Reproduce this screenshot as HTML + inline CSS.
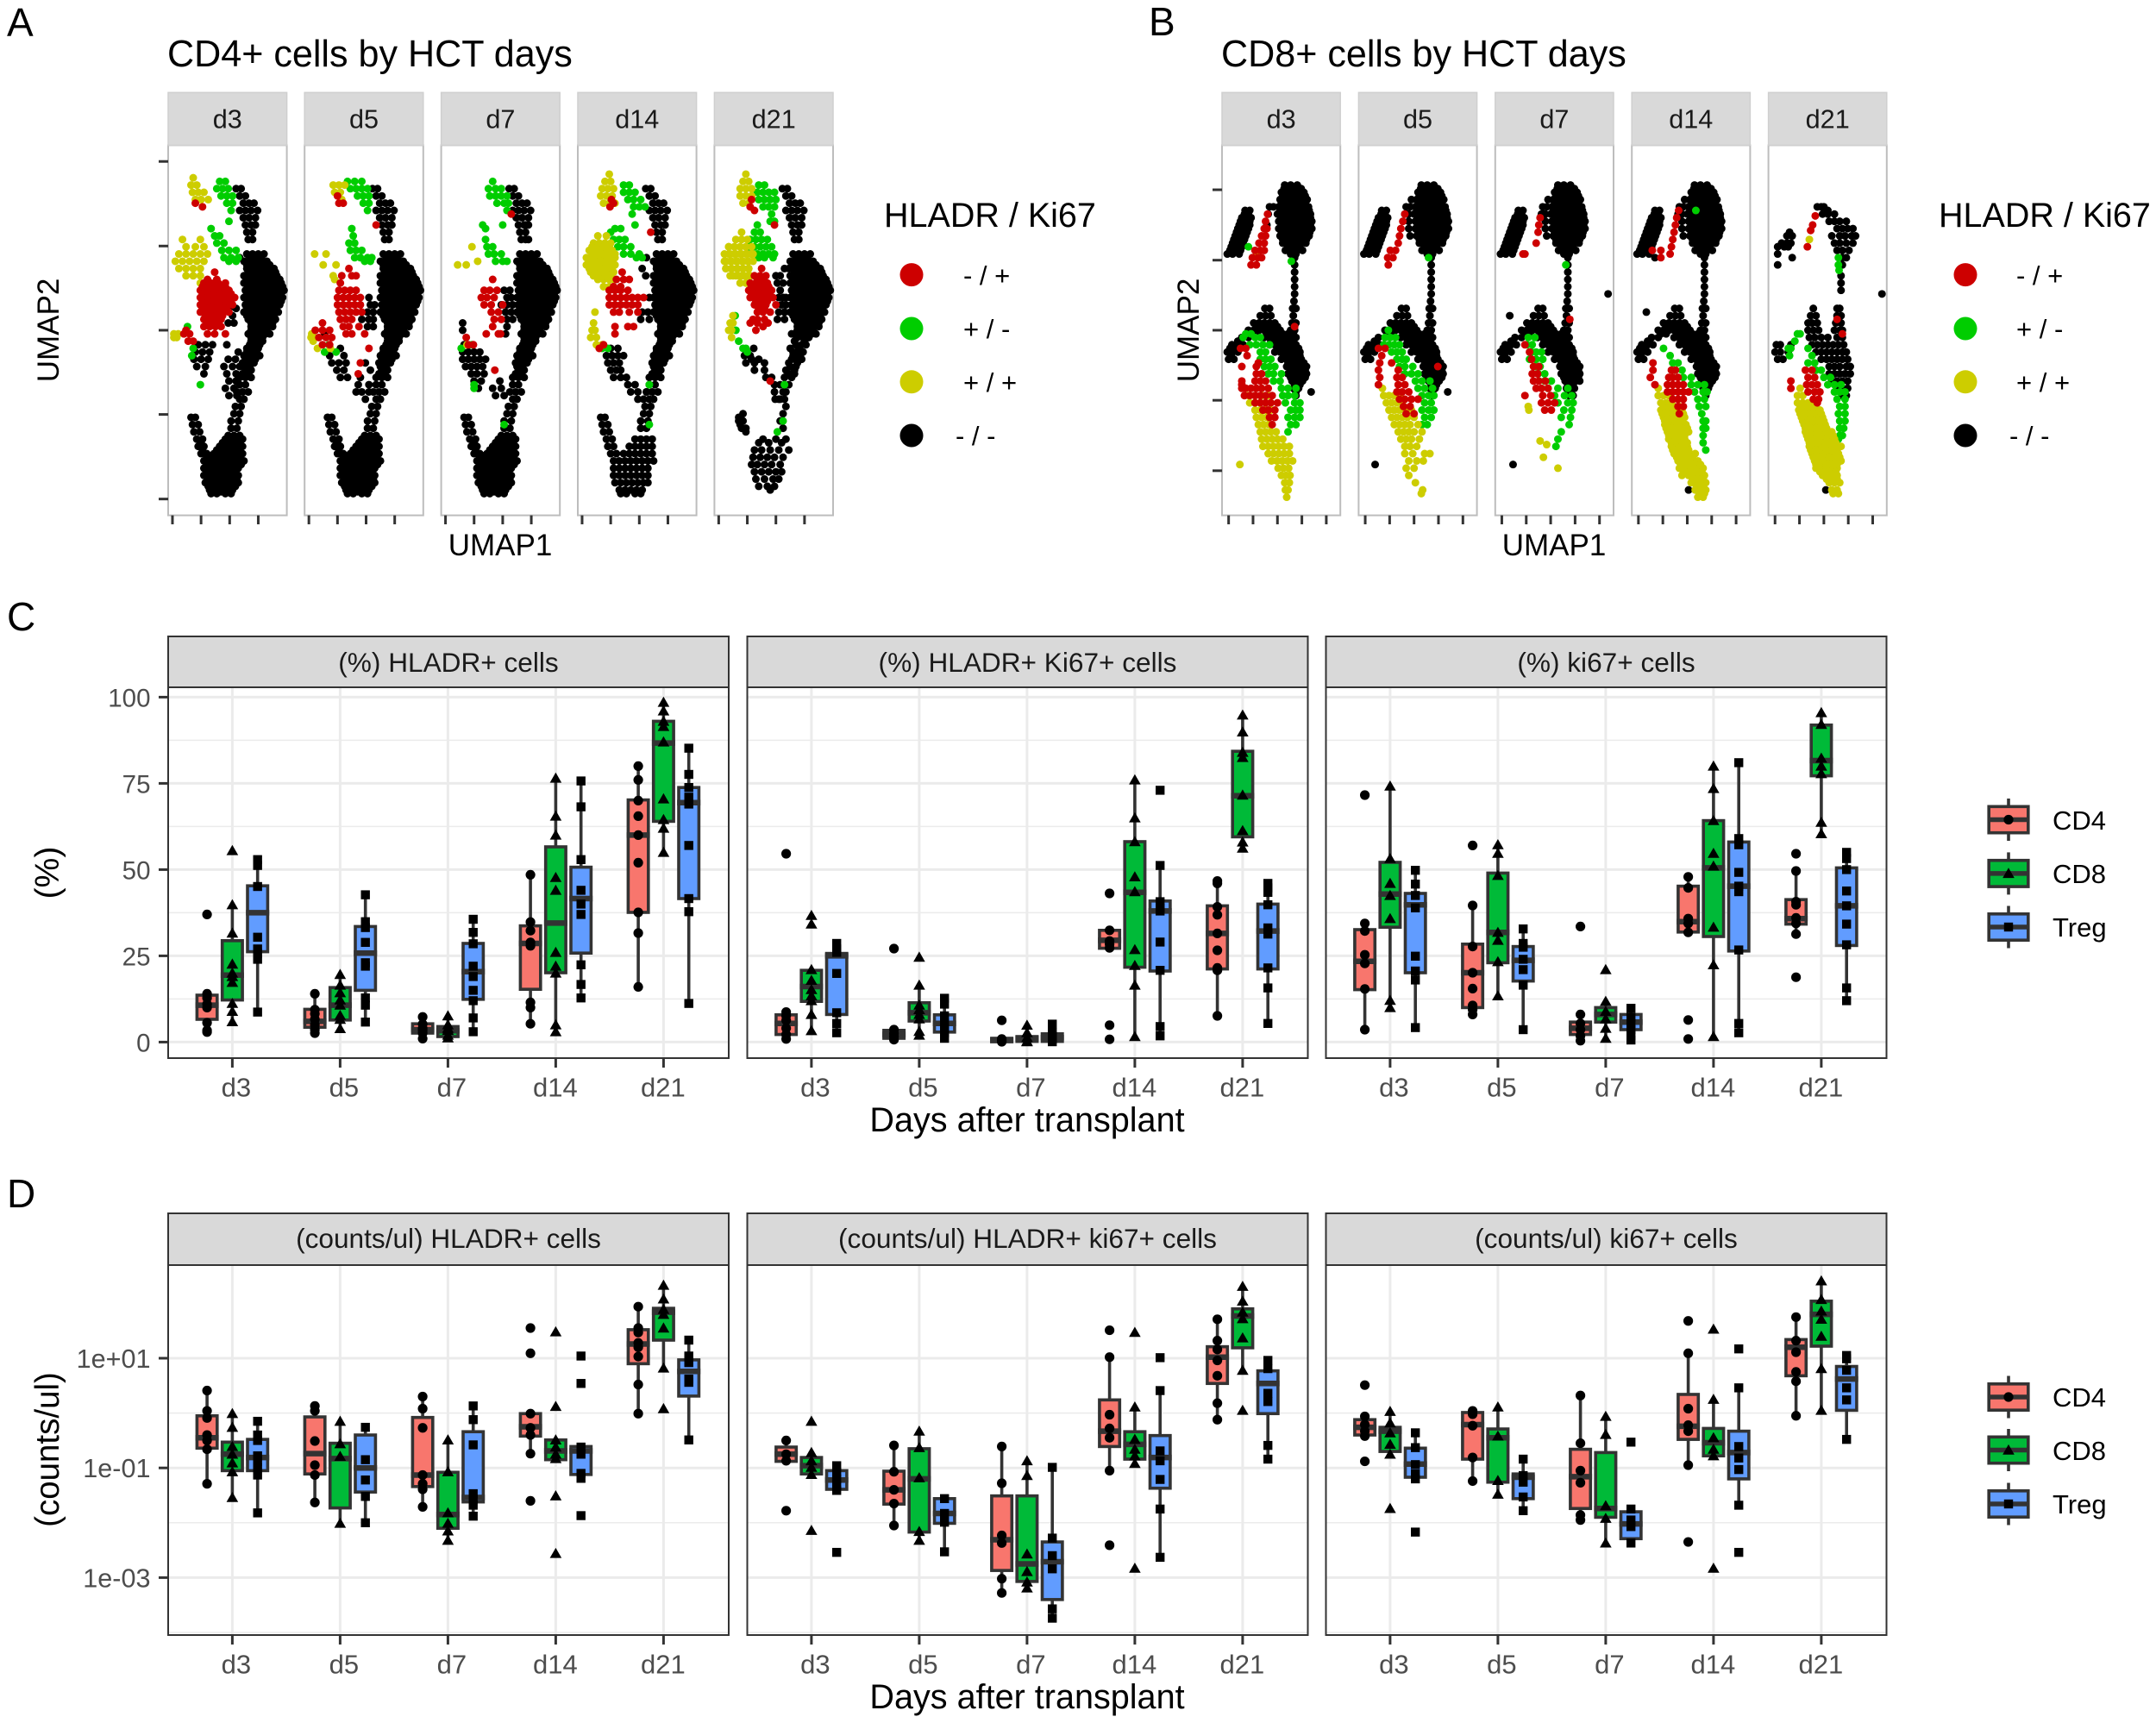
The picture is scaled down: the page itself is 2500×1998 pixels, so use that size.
<!DOCTYPE html>
<html lang="en">
<head>
<meta charset="utf-8">
<title>HLADR and Ki67 expression by HCT days</title>
<style>
html,body{margin:0;padding:0;background:#fff;}
svg{display:block;font-family:"Liberation Sans",sans-serif;}
text{font-family:"Liberation Sans",sans-serif;}
</style>
</head>
<body>
<svg id="figure" xmlns="http://www.w3.org/2000/svg" width="2500" height="1998" viewBox="0 0 2500 1998">
<rect width="2500" height="1998" fill="#fff"/>
<g id="marks"></g>
<g fill="#000">
<text x="8" y="42" font-size="46">A</text>
<text x="1332" y="41" font-size="46">B</text>
<text x="8" y="731" font-size="46">C</text>
<text x="8" y="1400" font-size="46">D</text>
<text x="194" y="77" font-size="43.1">CD4+ cells by HCT days</text>
<text x="1416" y="77" font-size="43.1">CD8+ cells by HCT days</text>
<text x="580" y="644" font-size="35" text-anchor="middle">UMAP1</text>
<text x="1802" y="644" font-size="35" text-anchor="middle">UMAP1</text>
<text transform="translate(68,383) rotate(-90)" font-size="35" text-anchor="middle">UMAP2</text>
<text transform="translate(1390,383) rotate(-90)" font-size="35" text-anchor="middle">UMAP2</text>
<text x="1025" y="263" font-size="39.5">HLADR / Ki67</text>
<text x="2248" y="263" font-size="39.5">HLADR / Ki67</text>
<text x="1117" y="330" font-size="31">- / +</text>
<text x="1117" y="392" font-size="31">+ / -</text>
<text x="1117" y="454" font-size="31">+ / +</text>
<text x="1108" y="516" font-size="31">- / -</text>
<text x="2338" y="330" font-size="31">- / +</text>
<text x="2338" y="392" font-size="31">+ / -</text>
<text x="2338" y="454" font-size="31">+ / +</text>
<text x="2330" y="516" font-size="31">- / -</text>
<text x="520" y="779" font-size="31.6" fill="#1a1a1a" text-anchor="middle">(%) HLADR+ cells</text>
<text x="1191.5" y="779" font-size="31.6" fill="#1a1a1a" text-anchor="middle">(%) HLADR+ Ki67+ cells</text>
<text x="1862.5" y="779" font-size="31.6" fill="#1a1a1a" text-anchor="middle">(%) ki67+ cells</text>
<text x="520" y="1447" font-size="31.6" fill="#1a1a1a" text-anchor="middle">(counts/ul) HLADR+ cells</text>
<text x="1191.5" y="1447" font-size="31.6" fill="#1a1a1a" text-anchor="middle">(counts/ul) HLADR+ ki67+ cells</text>
<text x="1862.5" y="1447" font-size="31.6" fill="#1a1a1a" text-anchor="middle">(counts/ul) ki67+ cells</text>
<text x="1191" y="1312" font-size="39.6" text-anchor="middle">Days after transplant</text>
<text x="1191" y="1981" font-size="39.6" text-anchor="middle">Days after transplant</text>
<text transform="translate(68,1012) rotate(-90)" font-size="39" text-anchor="middle">(%)</text>
<text transform="translate(68,1681) rotate(-90)" font-size="38.5" text-anchor="middle">(counts/ul)</text>
<text x="2380" y="962" font-size="31">CD4</text>
<text x="2380" y="1024" font-size="31">CD8</text>
<text x="2380" y="1086" font-size="31">Treg</text>
<text x="2380" y="1631" font-size="31">CD4</text>
<text x="2380" y="1693" font-size="31">CD8</text>
<text x="2380" y="1755" font-size="31">Treg</text>
</g>
</svg>
<script>
/* ---------- shared labels ---------- */
const dayLabels = ['d3','d5','d7','d14','d21'];
const pctTickValues = [0,25,50,75,100];
const pctTickLabels = ['0','25','50','75','100'];
const pctMinorValues = [12.5,37.5,62.5,87.5];
const logTickValues = [1,-1,-3];
const logTickLabels = ['1e+01','1e-01','1e-03'];
const logMinorValues = [3,0,-2,-4];

/* ---------- box plots: each row [lowWhisker,q1,median,q3,highWhisker]; order d3 CD4,CD8,Treg, d5 ... ---------- */
const pctHladrStats = [
[2.9,6.6,10.7,13.6,14],[5.6,12.2,19.4,29.4,39.8],[8.7,26.2,37.5,45.3,53],
[2.6,4.3,6,9.5,14],[3.9,6.4,10.7,15.8,19.6],[5.8,15,25.8,33.5,42.7],
[1,2.6,3.6,5.3,7.3],[1.2,1.6,3.3,4.5,7.6],[3,12.4,20.4,28.6,35.6],
[5.3,15.3,28.6,33.7,48.5],[3,20.1,34.5,56.6,76.5],[12.8,25.8,41.6,50.7,75.7],
[16,37.6,60,70.2,80],[55,64,86.7,93,98.5],[11.2,41.6,69.4,73.8,85.2]];
const pctHladrPoints = [
[37,14,12.8,11,10,5.6,3.4,2.9],[55.5,39.8,31.6,22.6,20,19,17.3,11.2,8.9,5.9],[52.9,51.2,45.1,30.4,27,25.7,24,8.7],
[14,9.4,8.2,6.6,5,3.6,2.6],[19.6,16.5,14.3,12.2,10.7,7.7,6.6,3.9],[42.7,34.9,33.2,28.9,23,22,12.8,10.7,5.8],
[7.3,5.2,4,3.4,2.6,1],[7.6,5,4,3.4,2,1.2],[35.6,31.8,28.5,22,19,15,12,7,3],
[48.5,34.8,32.3,28.9,27.9,11.5,10,5.3],[76.5,65.5,60,47.7,44,26,22,20,5,3],[75.7,68.2,52.9,44,40,37,22.4,16.7,12.8],
[80,76,70,65.5,60,52,37.6,31.6,16],[98.5,96,93,91.5,87,70.5,64.5,62,55],[85.2,77.6,73.8,71,69,57,41.6,37.8,11.2]];

const pctBothStats = [
[0.9,2.2,5.4,7.9,8.7],[3.1,11.8,16.1,20.8,21],[2.7,8,25,25.7,28.6],
[0.7,1.1,2.2,3.4,3.6],[1.8,6.1,8.5,11.4,16.5],[0.9,2.9,5.4,7.9,13.9],
[0,0.1,0.5,1.1,1.1],[0.1,0.2,1,1.6,4.9],[0.1,0.2,1.3,2.4,5.2],
[27.2,27.2,29.5,32.4,32.4],[1.3,21.7,43.4,58.1,76],[1.8,20.6,38,40.9,51.2],
[7.6,21.2,31.5,39.5,46.7],[55.6,59.5,71.4,84.3,94.8],[5.4,21.2,32.2,40,46]];
const pctBothPoints = [
[54.6,8.7,7.6,6.3,4,2.2,0.9],[36.7,34.2,21,17.9,15.2,13.4,12,8,3.3],[28.6,27,26,19.9,8.5,5.4,2.7],
[27.1,3.6,2.5,1.6,0.7],[24.6,16.5,10.7,9.4,8,6.7,3.1,2],[12.7,11,7.6,5.4,4,2.7,1.1],
[6.3,0.9,0.4,0.1],[4.9,2.7,1.3,0.2,0.1],[5.2,2.7,1.8,0.9,0.1],
[43.1,32.4,29.3,28.4,27.3,4.9,0.8],[76,65,58.1,47.9,43.6,26.8,22.2,16.5,1.6],[73,51.2,40.7,38.9,38,29,20.8,4.5,1.8],
[46.7,46,39.2,36.9,31.5,26.6,21.5,20.8,7.6],[94.8,89.9,84,82.5,71.6,61.3,58,56.2],[46,44.7,43.4,39.8,33.1,31.3,21.5,15.7,5.4]];

const pctKi67Stats = [
[3.6,15.2,23.4,32.6,34.4],[9.4,33.3,42.9,52.1,74.2],[4.2,20.1,39.8,43.1,50.5],
[8,10,20.1,28.4,39.8],[13,23,31.8,49,57.2],[3.6,17.7,23.7,27.7,32.8],
[0.4,2.2,4,5.8,8],[0.9,5.8,8,10,12.5],[0.4,3.6,5.8,8,10.3],
[31.9,31.9,34.9,45.2,48.3],[1.8,30.6,50.5,64.2,80],[2.7,26.4,45.2,58,81],
[31.3,34.2,35.8,41.3,49.6],[60.4,77.2,81.6,91.9,95.5],[12,28,39.5,50.5,55]];
const pctKi67Points = [
[71.6,34.4,32.2,25.3,22.8,15.4,3.6],[74.2,53.2,46,42.5,35.8,12.1,10],[49.8,45.8,42.5,38.9,24.9,20.6,18,4.2],
[57,39.6,27.7,20.1,15.5,10.6,9.4,8],[57.2,54.7,48.3,31.8,29.5,23.3,13.4],[32.8,28.6,27.5,24,21,16.5,3.6],
[33.5,8,5.4,3.6,1.8,0.4],[21,11.8,8.9,6.7,4,1.1],[9.8,7.2,5.4,3.6,1.8,0.6],
[47.9,44.7,35.8,34.4,31.8,6.4,0.9],[80,73.5,64.2,54.7,51,33.3,22.4,1.6],[81,59,57.2,49.2,45.2,43.6,26.7,5.4,2.7],
[54.6,49.6,40.7,39.8,36,34.4,31.3,18.8],[95.5,92.1,82.3,80,77.8,63.7,60.4],[55,53.2,50,43.8,39.5,34.2,28.2,15.7,12]];

/* log10(counts/ul) */
const logHladrStats = [
[-1.29,-0.64,-0.45,-0.05,0.41],[-1.54,-1.05,-0.75,-0.53,-0.01],[-1.82,-1.05,-0.81,-0.48,-0.15],
[-1.63,-1.11,-0.74,-0.07,0.13],[-2.01,-1.73,-0.83,-0.55,-0.15],[-2,-1.44,-1,-0.4,-0.26],
[-1.71,-1.34,-1.13,-0.08,0.3],[-2.32,-2.1,-1.85,-1.08,-0.49],[-1.88,-1.62,-1.54,-0.34,0.13],
[-0.74,-0.42,-0.25,-0.01,-0.01],[-0.85,-0.85,-0.69,-0.49,-0.49],[-1.19,-1.12,-0.69,-0.61,-0.61],
[-0.01,0.9,1.26,1.52,1.94],[0.82,1.33,1.84,1.91,2.33],[-0.49,0.31,0.76,0.97,1.33]];
const logHladrPoints = [
[0.41,0.04,-0.09,-0.4,-0.5,-0.66,-1.29],[-0.01,-0.26,-0.61,-0.75,-0.91,-1.07,-1.54],[-0.15,-0.4,-0.5,-0.78,-0.88,-1,-1.13,-1.82],
[0.13,0.04,-0.51,-0.95,-1.13,-1.63],[-0.15,-0.56,-0.79,-2.01],[-0.26,-0.85,-1.22,-1.52,-2],
[0.3,0.08,-0.27,-1.13,-1.29,-1.39,-1.71],[-0.49,-1.07,-1.82,-2.01,-2.15,-2.32],[0.13,-0.12,-0.58,-1.47,-1.57,-1.68,-1.88],
[1.55,1.09,-0.01,-0.27,-0.4,-0.74,-1.6],[1.48,0.12,-0.49,-0.62,-0.75,-0.83,-1.51,-2.56],[1.04,0.54,-0.62,-0.75,-1.1,-1.19,-1.87],
[1.94,1.55,1.47,1.28,1.2,1.03,0.52,-0.01],[2.33,2.08,1.89,1.8,1.55,0.82,0.08],[1.33,1.04,0.92,0.62,0.56,-0.49]];

const logBothStats = [
[-0.87,-0.88,-0.75,-0.62,-0.5],[-1.12,-1.11,-0.96,-0.81,-0.72],[-1.41,-1.39,-1.22,-1.05,-0.96],
[-2.05,-1.66,-1.4,-1.06,-0.59],[-2.32,-2.17,-1.2,-0.65,-0.33],[-2.53,-2.01,-1.83,-1.56,-1.56],
[-3.28,-2.87,-2.31,-1.51,-0.61],[-3.2,-3.07,-2.75,-1.51,-0.87],[-3.74,-3.4,-2.71,-2.35,-0.99],
[-1.05,-0.61,-0.33,0.24,1.02],[-0.93,-0.84,-0.57,-0.34,0.11],[-2.63,-1.37,-0.81,-0.41,0.41],
[-0.12,0.54,1.02,1.21,1.71],[0.77,1.19,1.77,1.9,2.31],[-0.84,-0.01,0.54,0.77,0.99]];
const logBothPoints = [
[-0.5,-0.75,-0.87,-1.78],[-0.15,-0.72,-0.87,-0.99,-1.12,-2.14],[-0.96,-1.08,-1.2,-1.32,-1.41,-2.54],
[-0.59,-1.07,-1.4,-1.65,-2.05],[-0.33,-0.63,-1.18,-2.16,-2.32],[-1.56,-1.83,-1.99,-2.53],
[-0.61,-1.28,-2.23,-2.37,-3.02,-3.28],[-0.87,-1.14,-2.57,-2.89,-3.08,-3.19],[-0.99,-2.28,-2.6,-2.84,-3.57,-3.74],
[1.51,1.02,-0.03,-0.28,-0.45,-1.05,-2.41],[1.47,0.11,-0.48,-0.66,-0.78,-0.92,-2.83],[1.01,0.41,-0.69,-0.87,-1.21,-1.75,-2.63],
[1.71,1.32,1.16,0.96,0.68,0.18,-0.12],[2.31,2.04,1.84,1.72,1.37,0.78,0.05],[0.96,0.81,0.36,0.21,-0.59,-0.84]];

const logKi67Stats = [
[-0.42,-0.4,-0.26,-0.12,-0.06],[-0.78,-0.7,-0.33,-0.26,0.03],[-1.23,-1.17,-0.93,-0.64,-0.36],
[-1.24,-0.84,-0.21,0.01,0.04],[-1.48,-1.26,-0.45,-0.29,0.11],[-1.8,-1.56,-1.17,-1.11,-0.84],
[-1.95,-1.74,-1.16,-0.66,0.32],[-2.37,-1.9,-1.74,-0.72,-0.06],[-2.37,-2.29,-2.02,-1.8,-1.74],
[-0.95,-0.48,-0.24,0.34,1.09],[-0.84,-0.78,-0.54,-0.28,0.25],[-1.68,-1.2,-0.72,-0.33,0.46],
[-0.05,0.68,1.2,1.34,1.75],[0.05,1.22,1.8,2.04,2.41],[-0.48,0.05,0.62,0.85,1.11]];
const logKi67Points = [
[0.51,-0.06,-0.21,-0.33,-0.42,-0.88],[0.03,-0.18,-0.36,-0.57,-0.75,-1.74],[-0.36,-0.63,-0.94,-1.11,-1.2,-2.17],
[0.04,-0.02,-0.23,-0.81,-1.24],[0.11,-0.42,-1.23,-1.48],[-0.84,-1.14,-1.26,-1.53,-1.78],
[0.32,-0.55,-1.05,-1.27,-1.86,-1.95],[-0.06,-0.39,-1.69,-1.92,-2.37],[-0.53,-1.75,-1.95,-2.07,-2.37],
[1.68,1.09,0.08,-0.22,-0.33,-0.95,-2.35],[1.53,0.25,-0.45,-0.66,-0.78,-2.83],[1.17,0.46,-0.61,-0.82,-1.03,-1.68,-2.54],
[1.75,1.32,1.11,0.75,0.58,-0.05],[2.41,2.07,1.86,1.71,1.4,0.81,0.05],[1.05,0.99,0.78,0.46,0.24,-0.48]];

/* ---------- UMAP scatter: rows [umap2, umap1, umap1, ...] in chart units ---------- */
const cd4XTicks = [6,46,86,126];
const cd4YTicks = [4.5,27.8,51,74.2,97.5];
const cd8XTicks = [10,47,84,121,158];
const cd8YTicks = [12.3,31.7,51,70.3,89.7];

const cd4MainBlack = [[72,110,118,126,134],[70,106,114,122,130,138],[68,110,118,126,134,142,148],[66,106,114,122,130,138,146,152],[64,106,114,122,130,138,146,154,158],[62,108,116,124,132,140,148,156,162],[60,106,114,122,130,138,146,154,160],[58,108,116,124,132,140,148,156],[56,106,114,122,130,138,146,154],[54,112,120,128,136,144,150],[52,116,124,132,140,146],[50,112,120,128,136,142]];
const cd4MainFill = [[71,114,122,130],[69,110,118,126,134,142],[67,112,120,128,136,144,150],[65,110,118,126,134,142,150,156],[63,112,120,128,136,144,152,160],[61,110,118,126,134,142,150,158],[59,112,120,128,136,144,152,158],[57,110,118,126,134,142,150],[55,110,118,126,134,142,148],[53,116,124,132,140,146],[51,116,124,132,138],[49,116,124,132],[47,114,122,128],[45,110,118,124],[43,108,116,122],[41,106,114],[39,104,112]];
const cd4StemBlack = [[48,116,124,132],[46,110,118,126],[44,106,114,122,128],[42,104,112,120],[40,108,116],[38,100,108,116],[36,100,108],[34,96,104,112],[32,100,106],[30,94,102],[28,92,100],[26,88,98],[24,88,96]];
const cd4BottomBlack = [[27,32,38],[25,34,42],[23,36,44],[21,40,48,80,88,96,104],[19,42,50,72,80,88,96,104],[17,46,54,64,72,80,88,96,104],[15,50,58,66,74,82,90,98,106],[13,50,58,66,74,82,90,98],[11,50,58,66,74,82,90,98],[9,52,60,68,76,84,92,98],[7,58,66,74,82,90],[6,60,68,80,88]];
const cd4BottomFill = [[22,84,92,100],[20,46,76,84,92,100],[18,48,68,76,84,92,100],[16,54,60,68,76,84,92,100],[14,54,62,70,78,86,94,102],[12,54,62,70,78,86,94],[10,56,64,72,80,88,96],[8,56,64,72,80,88,94],[6.5,64,74,84]];
const cd4TopBlack = [[90,95,102],[88,100,108],[86,105,113,120],[84,100,108,116,125],[82,105,113,122],[80,108,116,122],[78,110,118],[76,112,118]];
const cd4YellowMidFill = [[74,20,28,36,44],[72,20,28,36,44,52],[70,16,24,32,40,48],[68,16,24,32,40,48],[66,22,30,38,46]];

const cd4D3Black = [[47,42,52,62,82],[45,38,48,58,98],[43,36,46,56,84,94],[41,40,52,78,90,100],[39,50,82,95],[37,85,95],[35,80,92],[33,85,96],[57,85,95],[55,90],[53,84,92],[71,100]];
const cd4D3Green = [[92,72,80],[90,68,76,84],[88,74,82,90],[86,82,90],[84,88],[81,85],[79,60],[77,65,72],[75,68,78],[73,75,85,95],[71,78,88,98],[70,85,95],[52,27],[46,35],[44,33],[36,45]];
const cd4D3Yellow = [[93,35],[91,32,40],[89,34,42,50],[87,38,46,56],[76,20,45],[74,25,38,50],[72,15,25,35,45,55],[70,10,20,30,40,50],[68,15,25,35,45],[66,25,35,45],[64,45],[50,8,14],[49,8,12]];
const cd4D3Red = [[86,38],[85,48],[67,65],[65,55,68],[64,50,60,70,80],[62,45,53,61,69,77,85],[60,45,53,61,69,77,85,93],[58,45,53,61,69,77,85,90],[56,45,53,61,69,77,85],[54,50,58,66,74],[52,50,58,66,74],[50,55,65,80],[51,25],[50,22,30],[48,28,35]];
const cd4D3RedFill = [[63,48,56,64,72,80],[61,48,56,64,72,80,88],[59,48,56,64,72,80,88],[57,48,56,64,72,80],[55,52,60,68,76],[53,54,62,70]];

const cd4D5Black = [[50,28],[46,50],[44,35,55],[42,38,48,58,85],[40,45,55,92],[38,50,60,78],[36,75,90],[34,72,80,90],[32,85],[60,90],[58,92,98],[56,88,96],[54,80,90,96],[52,88,96]];
const cd4D5Green = [[92,60,70,80],[90,64,72,80,88],[88,74,82,90],[86,82,90],[84,88],[79,66],[77,68],[75,62,70],[73,64,72,80],[71,70,78,88,94],[70,84,92],[47,34],[45,28,44]];
const cd4D5Yellow = [[91,40,48,56],[89,42,50],[87,52],[72,14,30],[69,26,44],[66,40],[65,42],[50,10],[49,9,14],[48,12],[46,18,36]];
const cd4D5Red = [[88,46],[86,48,54],[80,100],[68,62],[66,52,66,72],[64,50],[62,48,56,64,72],[60,46,54,62,70,78],[58,46,54,62,70,78],[56,48,56,64,72,80],[54,50,58,66],[52,54,62,76],[50,58,66,84],[53,25],[51,15,25,35],[49,20,30,38],[47,25,35],[42,78],[39,75],[46,90]];

const cd4D7Black = [[53,30],[51,30],[47,32],[45,30,38,46,54],[43,30,38,46,54,62],[41,34,42,50,58],[39,42,50,60],[37,46,56,82],[35,52,72,84],[33,76,88],[62,88,96],[60,92,98],[58,84,92,100],[56,90,98],[54,92,100],[52,92],[50,90],[76,122],[80,118]];
const cd4D7Green = [[92,72],[90,66,76,84],[88,68,76,84,92],[86,78,88,94],[84,92],[80,86,58],[79,62],[76,62],[74,64,72],[72,66,74,84],[70,76,86,92],[46,28],[47,43],[36,46],[35,46],[25,88]];
const cd4D7Yellow = [[69,23,35],[74,43],[70,51],[47,36]];
const cd4D7Red = [[83,98],[65,72],[62,60,68,78],[60,56,64,74],[58,60,70,86],[56,70,80],[54,74,84],[52,72],[50,80,63,83],[49,35],[47,38,45],[40,75]];

const cd4D14Black = [[46,46,56],[44,40,48,56,64],[42,42,50,58],[40,46,54,60],[38,50,60,68],[36,70,80],[34,74,84,96],[32,84,92],[71,96],[68,90],[66,95],[60,100],[56,90,98],[54,88,100]];
const cd4D14Green = [[91,64,72],[89,64,72,80],[87,70,78,88],[85,78,86,94],[83,76],[80,80],[79,52,60],[78,46],[76,50,58,66],[74,56,64,74],[72,64,74,86],[71,82,90],[46,34,42],[36,100],[25,100]];
const cd4D14Yellow = [[94,44],[92,38,46],[90,34,42,50],[88,32,40,48],[86,36,44,52],[77,28,40],[75,22,30,38,46],[73,16,24,32,40,48],[71,12,20,28,36,44,52],[69,12,20,28,36,44,52],[67,18,26,34,42,50],[65,28,36,44,50],[63,36,44],[56,24],[53,22],[51,20,24],[49,18,26],[47,26,34]];
const cd4D14Red = [[87,47],[86,50],[85,45],[67,62],[65,54,64,72],[63,50,60],[62,44,52,60,70],[60,44,52,60,68,76,84,92],[58,44,52,60,68,76,84],[56,50,58,72,84],[52,52,70,78],[50,52],[46,30],[47,36],[78,102]];

const cd4D21Black = [[68,98,104],[64,96],[60,96,100],[58,100],[56,98],[46,55],[44,42,50],[43,52,62],[42,44,56,70],[40,56,70],[38,72,80],[36,84],[34,84,96],[32,85,92],[66,86,92],[64,88],[62,92],[60,90,96],[58,94],[56,90,98],[54,88,98],[50,120,108],[48,112,126],[46,118,106],[44,110,120],[42,104,116],[40,100,112],[38,108,98],[36,104,92],[34,100],[32,98,90],[30,100],[28,96,40],[26,92,34,40],[27,34],[25,36],[24,96,38,44],[23,44],[21,68,86,100],[20,62,76,94],[18,56,66,78,90,104],[16,54,64,74,84,96],[14,52,60,70,80,92],[12,56,66,76,86,94],[10,58,70,82,90],[8,62,74,84],[7,78]];
const cd4D21Green = [[91,62,70],[89,60,68,76,84],[87,62,70,78,86],[85,68,76,84],[83,80],[81,78,84],[80,60],[78,56,64],[76,50,58,66,74],[74,48,56,64,72,80],[72,52,60,68,76,84],[71,62,70,82],[55,29],[51,30],[48,34],[46,40,44],[45,46],[26,96],[23,88],[36,98]];
const cd4D21Yellow = [[94,44],[92,40,48],[90,36,44,52],[88,36,44,52],[86,40,48],[78,38],[76,30,38,46],[74,20,28,36,44,52],[72,14,22,30,38,46,54],[70,14,22,30,38,46,54],[68,16,24,32,40,48],[66,26,34,42,50],[64,36,44,50],[55,26],[53,22,26],[51,20,24],[49,24]];
const cd4D21Red = [[87,52],[85,50],[84,56],[80,84],[68,66],[66,56,64,72],[64,50,58,66,74],[62,48,56,64,72,80],[60,50,58,66,74,82],[58,56,64,72,86],[56,60,68,78],[54,54,60,70],[53,50,60,75],[52,68],[51,58],[37,78]];
const cd4D21RedFill = [[65,60,68],[63,52,60,68,76],[61,52,60,68,76],[59,58,66,74],[57,62,70]];

const cd8TopBlack = [[91,95,104,114],[89,90,99,108,117,124],[87,88,97,106,115,124,129],[85,86,95,104,113,122,131],[83,84,93,102,111,120,129,134],[81,86,95,104,113,122,131,136],[79,86,95,104,113,122,131,136],[77,88,97,106,115,124,132],[75,92,101,110,119,127],[73,96,105,114,122]];
const cd8TopFill = [[90,94,103,112,120],[88,92,101,110,119,126],[86,90,99,108,117,126],[84,88,97,106,115,124,132],[82,90,99,108,117,126,134],[80,90,99,108,117,126,134],[78,90,99,108,117,126,133],[76,92,101,110,119,128],[74,100,109,118],[72,104,112]];
const cd8TopWide = [[87,80],[85,78],[83,74,76],[81,76],[79,76],[77,78],[85,72],[83,70]];
const cd8LeftBlack = [[84,35,42],[82,30,38,44],[80,26,34,42],[78,22,30,38],[76,18,26,34],[74,14,22,30],[72,8,16,26]];
const cd8LeftFill = [[83,34,40],[81,28,36,42],[79,24,32,40],[77,20,28,36],[75,16,24,32],[73,12,20,28]];
const cd8NeckBlack = [[71,110],[69,110],[67,110],[65,110],[63,110],[61,110],[59,109],[57,107,112],[55,108],[53,106,112],[51,104,110]];
const cd8ArcBlack = [[57,65,72],[55,58,66,74],[53,48,56,64,72,80],[51,40,48,56,64,72,80,88],[49,30,40,64,72,80,88,96,104,112],[47,15,24,32,72,80,88,96,104,112],[45,8,16,24,80,88,96,104,112,118],[43,10,18,90,98,106,114,120],[41,98,106,114,122,128],[39,100,108,116,124,128],[37,106,114,122],[35,108,116],[33,112]];
const cd8ArcFill = [[52,52,60,68,76,84],[50,44,52,68,76,84,92,100,108],[48,24,74,84,92,100,108],[46,12,20,84,92,100,108,116],[44,14,94,102,110,118],[42,100,108,116,124],[40,104,112,120,126],[38,104,112,120,126],[36,110,118],[34,112]];

const cd8D3Black = [[34,135],[85,72,78],[83,70],[80,68]];
const cd8D3Green = [[74,40],[50,36,44],[49,32,50,58],[47,42,52,62,72],[45,58,66],[43,58,66,74],[41,64,72,80],[39,70,78,90],[37,78,88],[35,90,100,112],[33,92,100,110],[31,96,110,118],[29,104,112,118],[27,100,110,118],[25,104,112],[23,100],[70,105]];
const cd8D3Yellow = [[72,53],[33,40,50,60,70],[31,42,50,58,66,74],[29,50,58,66,74],[27,52,60,68],[25,55,63,71],[23,58,66,74,82],[21,60,68,76,84,92],[19,62,70,78,86,94,102],[17,70,78,86,94,102],[15,75,83,91,99,107],[13,85,93,101],[11,90,97,103],[9,95,102],[7,96,100],[5,98],[14,27]];
const cd8D3Red = [[83,69],[81,66],[79,64,68],[77,60,66],[75,56,64],[73,50,58,64],[71,46,54,60],[69,44,52],[52,110],[46,28,36],[44,38],[42,55],[41,30,52],[39,52,60],[37,30,50,58,66],[36,30],[35,30,36,44,52,60,70],[33,34,42,50,58,66,76],[31,50,58,66,74,84],[29,62,70,80],[27,72,80],[25,76]];

const cd8D5Black = [[34,135],[14,25]];
const cd8D5Green = [[71,106],[51,45],[49,40,48,56],[47,38,46,54,62],[45,50,58,66],[43,58,66,72],[41,62,70,82],[39,70,80,90],[37,86,96,108],[35,90,100,112],[33,96,106,114],[31,100,110],[29,96,106,114],[27,100,110],[25,96,104]];
const cd8D5Yellow = [[35,36],[33,38,46,54,62],[31,42,50,58,66],[29,46,54,62,72,80],[27,50,58,66,74,84],[25,54,62,70,78,90],[23,60,68,76,84,96],[21,64,72,80,92],[19,70,78,88],[17,70,82,100,108],[15,76,88,98],[13,72,84],[11,76],[9,86],[7,97],[6,95]];
const cd8D5Red = [[83,70],[81,67],[79,64],[77,62],[75,60],[73,48,56],[71,44,52],[69,45],[46,30,40],[44,35],[42,32,50],[41,120],[40,30,60],[38,32,58,66],[36,30,60,70],[34,58,66,76],[32,62,70,80,90],[30,68,78],[28,72,84]];

const cd8D7Black = [[39,128],[37,120,128],[35,120],[33,112,118],[61,171],[14,27],[55,22]];
const cd8D7Green = [[69,107],[49,50,60],[47,48,56],[45,55,62,70],[43,52,62,72],[41,60,68],[39,65,75],[37,75,85],[35,80,95,110],[33,90,105,116],[31,95,110,118],[29,104,116],[27,100,114],[25,112],[23,100],[21,95],[19,92]];
const cd8D7Yellow = [[30,50],[29,51],[20.5,68],[19.5,78],[16,73],[13,95]];
const cd8D7Red = [[82,68],[80,66],[78,65],[75,62],[72,42,45],[54,113],[47,45],[45,52],[43,55],[41,58,66],[39,56,64],[37,58,66,76],[35,62,70,80],[33,45,72,84],[31,70,80,90],[29,75,85]];

const cd8D14Black = [[7,86],[56,22],[71,35]];
const cd8D14Green = [[84,97],[46,48],[44,58],[42,62,70],[40,66,76],[38,78,90],[36,90,100,110],[34,95,108,114],[32,100,110],[30,102,112],[28,106],[26,108,112],[24,108,112],[22,108],[20,108],[18,112]];
const cd8D14Yellow = [[35,40],[33,40,48,56],[31,44,52,60],[29,44,52,60,68,76],[27,48,56,64,72,80],[25,50,58,66,74,82],[23,54,62,70,78,86],[21,56,64,72,80],[19,60,68,76,84],[17,64,72,80,88,96],[15,70,78,88,100],[13,72,80,90,100,108],[11,76,86,94,104,110],[9,90,98,106,112],[7,96,104,112],[5,100,108]];
const cd8D14YellowFill = [[30,48,56,64,72],[28,46,54,62,70,78],[26,50,58,66,74],[24,52,60,68,76,84],[22,56,64,72,80],[20,60,68,76,84],[18,62,70,78,86],[16,68,76,84,92],[14,74,84,94,104],[12,78,88,98,106],[10,92,100,108],[8,98,106],[6,102,110]];
const cd8D14Red = [[84,71],[82,68],[80,66],[78,64],[76,62],[74,60],[72,58],[73,31,44],[71,44],[42,32],[40,32,60,66],[38,28,56,62,70],[36,35,54,62,70,78],[34,54,62,70,78,86],[32,62,70,78],[30,70,78],[28,72]];

const cd8D21Black = [[85,74,80,84],[84,90],[83,82,90,100],[81,92,100,108,118],[79,104,112,120,128],[77,96,108,116,126,132],[75,100,108,118,128],[73,104,112,122],[71,112,118],[69,112],[66,110],[64,110],[62,110],[78,32],[77,28,36],[75,20,28,34],[74,14,24,30],[72,14],[71,36],[69,14],[61,172],[7,87],[57,68,104,108],[55,64,72,104,110],[53,60,66,74,102,110],[51,60,68,76,100,108,112],[49,62,70,80,90,104,112],[47,12,18,34,66,74,82,90,98,106,114],[45,10,18,30,72,80,88,96,104,112,118],[43,14,22,80,88,96,104,112,120],[41,92,100,108,118,124],[39,92,100,108,116,124],[37,96,104,112,120],[35,104,112,120],[33,112,118]];
const cd8D21Green = [[71,106],[69,106],[67.5,107],[50,44,48],[48,40],[46,30,34,60],[44,32,66],[42,60,70],[40,72,80],[38,84,94],[36,90,100,110],[34,100,108,116],[32,104,116],[30,108,116],[28,106,116],[26,108,116],[24,108,114],[22,108,112],[21,106]];
const cd8D21Yellow = [[76,62],[35,48],[33,44,52],[31,44,52,60,68],[29,46,54,62,70,78],[27,50,58,66,74,82],[25,54,62,70,78,86],[23,56,64,72,80,88,96],[21,60,68,76,84,92,100],[19,62,70,78,86,94,102,110],[17,66,74,82,90,98,106],[15,70,78,86,94,102,110],[13,72,80,88,96,104],[11,82,90,98,104],[9,92,100,108],[7,96,104],[6,98,106]];
const cd8D21YellowFill = [[30,48,56,64,72],[28,48,56,64,72,80],[26,52,60,68,76,84],[24,56,64,72,80,88],[22,58,66,74,82,90,98],[20,62,70,78,86,94,102],[18,64,72,80,88,96,104],[16,68,76,84,92,100,108],[14,72,80,88,96,104],[12,78,86,94,102],[10,88,96,104]];
const cd8D21Red = [[82.5,71],[80,67],[78.5,64],[74,59],[54,104],[50,112],[40,56,66],[38,60,70],[37,34],[36,58,66,74],[35,34],[34,60,70,78],[32,68,76],[31,74]];

/* ---------- drawing helpers ---------- */
const NS = 'http://www.w3.org/2000/svg';
const root = document.getElementById('marks');
function make(tag, attrs, parent) {
  const node = document.createElementNS(NS, tag);
  for (const k in attrs) node.setAttribute(k, attrs[k]);
  parent.appendChild(node);
  return node;
}
const statusColors = {red:'#cd0000', green:'#00cd00', yellow:'#cdcd00', black:'#000000'};
const fillColors = ['#F8766D','#00BA38','#619CFF'];
const cellNames = ['cd4','cd8','treg'];
const dayLabelNudge = [4.5,4.5,4.5,-0.5,-0.5];

function marker(kind, cx, cy, parent) {
  let m;
  if (kind === 0) {
    m = make('circle', {cx:cx, cy:cy, r:5.6, fill:'#000'}, parent);
    
    
  } else if (kind === 1) {
    m = make('polygon', {points:(cx)+','+(cy-6.6)+' '+(cx-6.8)+','+(cy+5.2)+' '+(cx+6.8)+','+(cy+5.2), fill:'#000'}, parent);
    
    
  } else {
    m = make('rect', {x:cx-5.2, y:cy-5.2, width:10.4, height:10.4, fill:'#000'}, parent);
    
    
  }
  return m;
}

function drawBoxPanel(cfg) {
  const g = make('g', {}, root);
  
  
  const left = cfg.left, right = cfg.left + 650, band = 650 / 5.2;
  const xCat = i => left + 0.6 * band + i * band - 0.6;
  make('rect', {x:left, y:cfg.top, width:650, height:cfg.bottom-cfg.top, fill:'#fff'}, g);
  cfg.minor.forEach(v => {
    const ln = make('line', {x1:left, x2:right, y1:cfg.y(v), y2:cfg.y(v), stroke:'#ebebeb', 'stroke-width':1.5}, g);
    
    
  });
  cfg.major.forEach(v => {
    const ln = make('line', {x1:left, x2:right, y1:cfg.y(v), y2:cfg.y(v), stroke:'#ebebeb', 'stroke-width':3}, g);
    
    
  });
  dayLabels.forEach((d, i) => {
    const ln = make('line', {x1:xCat(i), x2:xCat(i), y1:cfg.top, y2:cfg.bottom, stroke:'#ebebeb', 'stroke-width':3}, g);
    
    
  });
  cfg.stats.forEach((s, idx) => {
    const day = Math.floor(idx / 3), cell = idx % 3;
    const cx = xCat(day) + (cell - 1) * 29.3;
    const w = make('line', {x1:cx, x2:cx, y1:cfg.y(s[0]), y2:cfg.y(s[4]), stroke:'#333333', 'stroke-width':3.6}, g);
    
    
    const ty = cfg.y(s[3]), by = cfg.y(s[1]);
    const b = make('rect', {x:cx-11.7, y:ty, width:23.4, height:Math.max(by-ty,0.5), fill:fillColors[cell], stroke:'#333333', 'stroke-width':3.6}, g);
    
    
    const mline = make('line', {x1:cx-13.5, x2:cx+13.5, y1:cfg.y(s[2]), y2:cfg.y(s[2]), stroke:'#333333', 'stroke-width':6.5}, g);
    
    
    cfg.points[idx].forEach(v => marker(cell, cx, cfg.y(v), g));
  });
  const border = make('rect', {x:left, y:cfg.top, width:650, height:cfg.bottom-cfg.top, fill:'none', stroke:'#333333', 'stroke-width':2}, g);
  
  
  const strip = make('rect', {x:left, y:cfg.stripTop, width:650, height:cfg.top-cfg.stripTop, fill:'#d9d9d9', stroke:'#333333', 'stroke-width':2}, g);
  
  
  dayLabels.forEach((d, i) => {
    const t = make('line', {x1:xCat(i), x2:xCat(i), y1:cfg.bottom, y2:cfg.bottom+11, stroke:'#333333', 'stroke-width':3}, g);
    
    
    const lb = make('text', {x:xCat(i)+dayLabelNudge[i], y:cfg.bottom+44.6, 'font-size':31, fill:'#4d4d4d', 'text-anchor':'middle'}, g);
    lb.textContent = d;
    
    
  });
  if (cfg.labels) {
    cfg.major.forEach((v, i) => {
      const t = make('line', {x1:left-11, x2:left, y1:cfg.y(v), y2:cfg.y(v), stroke:'#333333', 'stroke-width':3}, g);
      
      
      const lb = make('text', {x:left-20.5, y:cfg.y(v)+11, 'font-size':cfg.labelSize, fill:'#4d4d4d', 'text-anchor':'end'}, g);
      lb.textContent = cfg.labels[i];
      
      
    });
  }
}

const pctY = v => 1208.4 - 4 * v;
const logY = v => 1575 + (1 - v) * 63.6;
[
 {name:'panel-pct-hladr', left:195, stats:pctHladrStats, points:pctHladrPoints, labels:pctTickLabels},
 {name:'panel-pct-hladr-ki67', left:866.5, stats:pctBothStats, points:pctBothPoints},
 {name:'panel-pct-ki67', left:1537.5, stats:pctKi67Stats, points:pctKi67Points}
].forEach(p => drawBoxPanel(Object.assign(p, {top:797, bottom:1227, stripTop:738, y:pctY, major:pctTickValues, minor:pctMinorValues, labelSize:29.5})));
[
 {name:'panel-count-hladr', left:195, stats:logHladrStats, points:logHladrPoints, labels:logTickLabels},
 {name:'panel-count-hladr-ki67', left:866.5, stats:logBothStats, points:logBothPoints},
 {name:'panel-count-ki67', left:1537.5, stats:logKi67Stats, points:logKi67Points}
].forEach(p => drawBoxPanel(Object.assign(p, {top:1467, bottom:1896, stripTop:1407, y:logY, major:logTickValues, minor:logMinorValues, labelSize:30.6})));

function drawBoxLegend(centers) {
  const g = make('g', {}, root);
  
  
  centers.forEach((cy, i) => {
    const key = make('g', {}, g);
    
    
    make('line', {x1:2329, x2:2329, y1:cy-24.5, y2:cy+24.5, stroke:'#333333', 'stroke-width':3.6}, key);
    make('rect', {x:2306.2, y:cy-15.2, width:45.6, height:30.4, fill:fillColors[i], stroke:'#333333', 'stroke-width':3.6}, key);
    make('line', {x1:2304.5, x2:2353.5, y1:cy, y2:cy, stroke:'#333333', 'stroke-width':5.5}, key);
    marker(i, 2329, cy, key);
  });
}
drawBoxLegend([950.5,1012.9,1075]);
drawBoxLegend([1620,1681.5,1744]);

function plotRows(rows, color, xFn, yFn, parent) {
  rows.forEach(row => {
    for (let i = 1; i < row.length; i++) {
      const c = make('circle', {cx:xFn(row[i]), cy:yFn(row[0]), r:4.5, fill:color}, parent);
      
      
    }
  });
}

const umapYPos = v => 597.6 - 4.209 * v;
function drawFacet(cfg) {
  const g = make('g', {}, root);
  
  
  const xPos = u => cfg.left + u / cfg.k;
  const bg = make('rect', {x:cfg.left, y:168.4, width:cfg.width, height:429.2, fill:'#fff', stroke:'#bdbdbd', 'stroke-width':2}, g);
  
  
  const strip = make('rect', {x:cfg.left, y:107.3, width:cfg.width, height:61.1, fill:'#d9d9d9', stroke:'#cfcfcf', 'stroke-width':1.5}, g);
  
  
  const lb = make('text', {x:cfg.left+cfg.width/2, y:148.6, 'font-size':30.6, fill:'#1a1a1a', 'text-anchor':'middle'}, g);
  lb.textContent = cfg.label;
  
  
  cfg.black.forEach(rows => plotRows(rows, statusColors.black, xPos, umapYPos, g));
  plotRows(cfg.green, statusColors.green, xPos, umapYPos, g);
  plotRows(cfg.yellow, statusColors.yellow, xPos, umapYPos, g);
  plotRows(cfg.red, statusColors.red, xPos, umapYPos, g);
  cfg.xTicks.forEach(u => {
    const t = make('line', {x1:xPos(u), x2:xPos(u), y1:597.6, y2:608, stroke:'#333333', 'stroke-width':3}, g);
    
    
  });
  if (cfg.yTicks) cfg.yTicks.forEach(v => {
    const t = make('line', {x1:cfg.left-11, x2:cfg.left, y1:umapYPos(v), y2:umapYPos(v), stroke:'#333333', 'stroke-width':3}, g);
    
    
  });
}

const cd4Common = [cd4MainBlack, cd4MainFill, cd4StemBlack, cd4BottomBlack, cd4TopBlack];
[
 {label:'d3', left:195, black:cd4Common.concat([cd4BottomFill, cd4D3Black]), green:cd4D3Green, yellow:cd4D3Yellow, red:cd4D3Red.concat(cd4D3RedFill), yTicks:cd4YTicks},
 {label:'d5', left:353.2, black:cd4Common.concat([cd4BottomFill, cd4D5Black]), green:cd4D5Green, yellow:cd4D5Yellow, red:cd4D5Red},
 {label:'d7', left:511.6, black:cd4Common.concat([cd4BottomFill, cd4D7Black]), green:cd4D7Green, yellow:cd4D7Yellow, red:cd4D7Red},
 {label:'d14', left:670, black:cd4Common.concat([cd4D14Black]), green:cd4D14Green, yellow:cd4D14Yellow.concat(cd4YellowMidFill), red:cd4D14Red},
 {label:'d21', left:828.4, black:[cd4MainBlack, cd4MainFill, cd4TopBlack, cd4D21Black], green:cd4D21Green, yellow:cd4D21Yellow.concat(cd4YellowMidFill), red:cd4D21Red.concat(cd4D21RedFill)}
].forEach(f => drawFacet(Object.assign(f, {name:'cd4-umap-'+f.label, width:137.6, k:1.206, xTicks:cd4XTicks})));

const cd8Common = [cd8TopBlack, cd8TopFill, cd8LeftBlack, cd8LeftFill, cd8NeckBlack, cd8ArcBlack, cd8ArcFill];
[
 {label:'d3', left:1417, black:cd8Common.concat([cd8D3Black]), green:cd8D3Green, yellow:cd8D3Yellow, red:cd8D3Red, yTicks:cd8YTicks},
 {label:'d5', left:1575.4, black:cd8Common.concat([cd8TopWide, cd8D5Black]), green:cd8D5Green, yellow:cd8D5Yellow, red:cd8D5Red},
 {label:'d7', left:1733.8, black:cd8Common.concat([cd8TopWide, cd8D7Black]), green:cd8D7Green, yellow:cd8D7Yellow, red:cd8D7Red},
 {label:'d14', left:1892.2, black:cd8Common.concat([cd8TopWide, cd8D14Black]), green:cd8D14Green, yellow:cd8D14Yellow.concat(cd8D14YellowFill), red:cd8D14Red},
 {label:'d21', left:2050.6, black:[cd8D21Black], green:cd8D21Green, yellow:cd8D21Yellow.concat(cd8D21YellowFill), red:cd8D21Red}
].forEach(f => drawFacet(Object.assign(f, {name:'cd8-umap-'+f.label, width:137.2, k:1.3067, xTicks:cd8XTicks})));

const legendOrder = ['red','green','yellow','black'];
function drawStatusLegend(cx) {
  const cys = [318.6,381,442.8,505];
  const g = make('g', {}, root);
  
  
  legendOrder.forEach((s, i) => {
    const c = make('circle', {cx:cx, cy:cys[i], r:13.5, fill:statusColors[s]}, g);
    
    
  });
}
drawStatusLegend(1057);
drawStatusLegend(2279);
</script>
</body>
</html>
